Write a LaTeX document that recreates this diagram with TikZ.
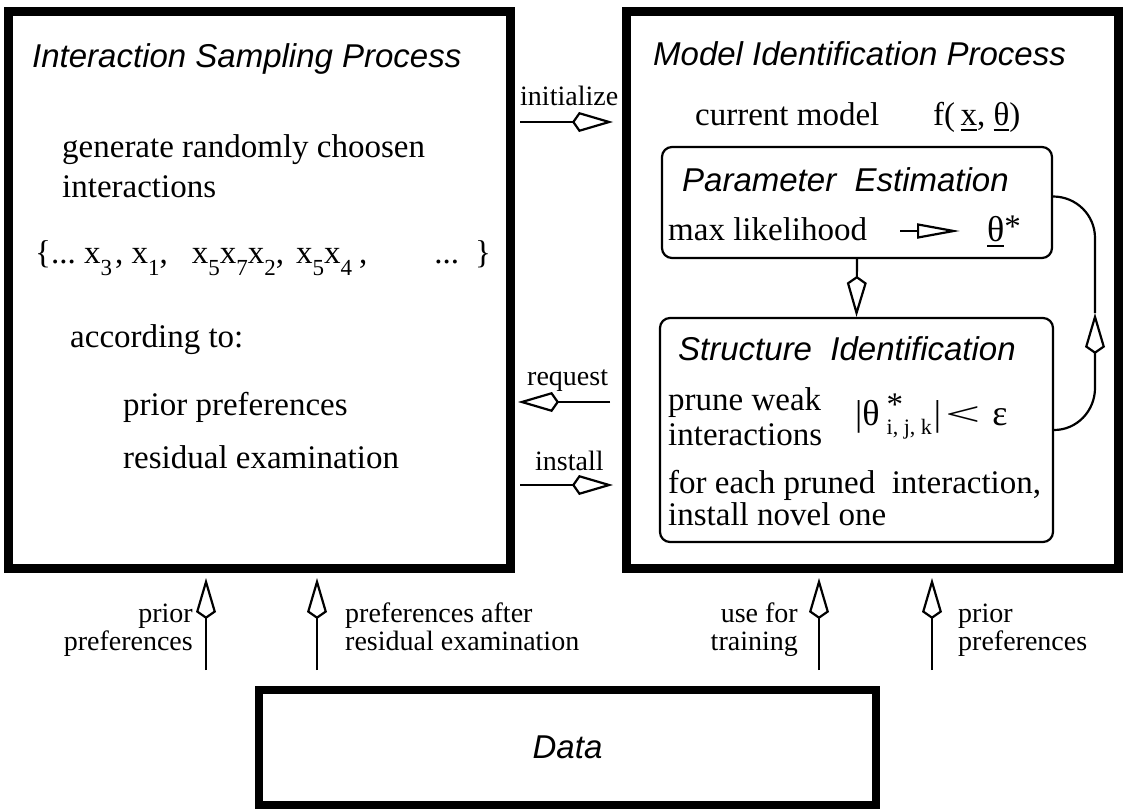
\documentclass[tikz,border=0pt]{standalone}
\usepackage{fontspec}
\setmainfont{Liberation Serif}
\newfontfamily\hv{Liberation Sans}
\usetikzlibrary{arrows.meta}
\newcommand\fs[1]{\fontsize{#1}{#1}\selectfont}
\newcommand\myul[1]{\setbox0\hbox{#1}\rlap{\rule[-6pt]{\wd0}{1.8pt}}\box0}
\newcommand\mysub[1]{\raisebox{-12pt}{\fs{23}#1}}
\tikzset{
  kt/.tip={Kite[length=41pt,width=20pt,inset=7pt,fill=white]},
  conn/.style={line width=2.2pt,-kt},
  plain/.style={line width=2.2pt},
  bigbox/.style={draw,line width=9pt,inner sep=0pt},
  subbox/.style={draw,line width=2.2pt,rounded corners=10pt,inner sep=0pt},
  txt/.style={anchor=base west,inner sep=0pt,font=\fs{33}},
  ttl/.style={anchor=base west,inner sep=0pt,font=\fs{33}\hv\itshape},
  lblw/.style={anchor=base west,inner sep=0pt,font=\fs{28}},
  lble/.style={anchor=base east,inner sep=0pt,font=\fs{28}},
}
\begin{document}
\begin{tikzpicture}[x=1pt,y=-1pt]
\useasboundingbox (0,0) rectangle (1125,811);
% main boxes
\node[bigbox,minimum width=502pt,minimum height=557pt] (L) at (259.5,289.5) {};
\node[bigbox,minimum width=492.5pt,minimum height=556.5pt] (R) at (872.25,289.75) {};
\node[bigbox,line width=8pt,minimum width=617pt,minimum height=115pt] (D) at (567.5,747.5) {};
\node[inner sep=0pt,font=\fs{33}\hv\itshape] (Dt) at (D.center) {Data};
% sub boxes
\node[subbox,minimum width=390pt,minimum height=111pt] (P) at (857,202.5) {};
\node[subbox,minimum width=393pt,minimum height=224pt] (S) at (856.5,430) {};
% left box texts
\node[ttl] (Lt) at (32,67) {Interaction Sampling Process};
\node[txt] (g1) at (62,157) {generate randomly choosen};
\node[txt] (g2) at (62,197) {interactions};
\node[txt] (set) at (35,263) {\{...\ x\mysub{3}\hspace{3pt},\ x\mysub{1},\hspace{24pt}x\mysub{5}x\mysub{7}x\mysub{2},\hspace{12pt}x\mysub{5}x\mysub{4}\hspace{7pt},\hspace{67pt}...\hspace{16pt}\}};
\node[txt] (acc) at (70,347) {according to:};
\node[txt] (pp) at (123,415) {prior preferences};
\node[txt] (re) at (123,468) {residual examination};
% right box texts
\node[ttl] (Rt) at (653,65) {Model Identification Process};
\node[txt] (cm) at (695,125) {current model};
\node[txt] (fx) at (933,125) {f(\,\myul{x}, \myul{θ})};
\node[ttl] (Pt) at (682,191) {Parameter\ \ Estimation};
\node[txt] (ml) at (668,240) {max likelihood};
\node[txt] (th) at (987,241) {{\fs{36}\myul{θ}}\raisebox{4pt}{*}};
\coordinate (pa1) at (900,231);
\coordinate (pa2) at (960,231);
\draw[plain,-{Triangle[open,length=43pt,width=15pt]}] (pa1) -- (pa2);
\node[ttl] (St) at (678,360) {Structure\ \ Identification};
\node[txt] (pw1) at (668,410) {prune weak};
\node[txt] (pw2) at (668,445) {interactions};
\node[txt,font=\fs{36}] (ta) at (855,425) {|θ\hspace{7pt}\rlap{\raisebox{10pt}{\fs{33}*}}\raisebox{-9pt}{\fs{22}i, j, k}\hspace{2pt}|\hspace{4pt}{\fs{33}\scalebox{1.9}[1]{<}}\hspace{12pt}ε};
\node[txt] (fe1) at (668,493) {for each pruned\ \ interaction,};
\node[txt] (fe2) at (668,525) {install novel one};
% connectors inside right box
\draw[conn] (P.south) -- (S.north);
\coordinate (fb1) at (1095,388);
\coordinate (fbk) at (1095,313);
\coordinate (fb2) at (1095,238);
\draw[conn] (S.east) to[out=0,in=-90] (fb1) -- (fbk);
\draw[plain] (fbk) -- (fb2) to[out=90,in=0] ([yshift=6pt]P.east);
% between boxes
\node[lblw] (il) at (520,105) {initialize};
\coordinate (i1) at (520,122);
\coordinate (i2) at (613,122);
\draw[conn] (i1) -- (i2);
\node[lblw] (rl) at (527,385) {request};
\coordinate (r1) at (610,402);
\coordinate (r2) at (518,402);
\draw[conn] (r1) -- (r2);
\node[lblw] (sl) at (535,470) {install};
\coordinate (s1) at (520,485);
\coordinate (s2) at (613,485);
\draw[conn] (s1) -- (s2);
% bottom arrows
\coordinate (b1a) at (206,670); \coordinate (b1b) at (206,578);
\coordinate (b2a) at (317,670); \coordinate (b2b) at (317,578);
\coordinate (b3a) at (819,670); \coordinate (b3b) at (819,578);
\coordinate (b4a) at (932,670); \coordinate (b4b) at (932,578);
\draw[conn] (b1a) -- (b1b);
\draw[conn] (b2a) -- (b2b);
\draw[conn] (b3a) -- (b3b);
\draw[conn] (b4a) -- (b4b);
\node[lble] (l1a) at (193,622) {prior};
\node[lble] (l1b) at (193,650) {preferences};
\node[lblw] (l2a) at (345,622) {preferences after};
\node[lblw] (l2b) at (345,650) {residual examination};
\node[lble] (l3a) at (798,622) {use for};
\node[lble] (l3b) at (798,650) {training};
\node[lblw] (l4a) at (958,622) {prior};
\node[lblw] (l4b) at (958,650) {preferences};
\end{tikzpicture}
\end{document}
